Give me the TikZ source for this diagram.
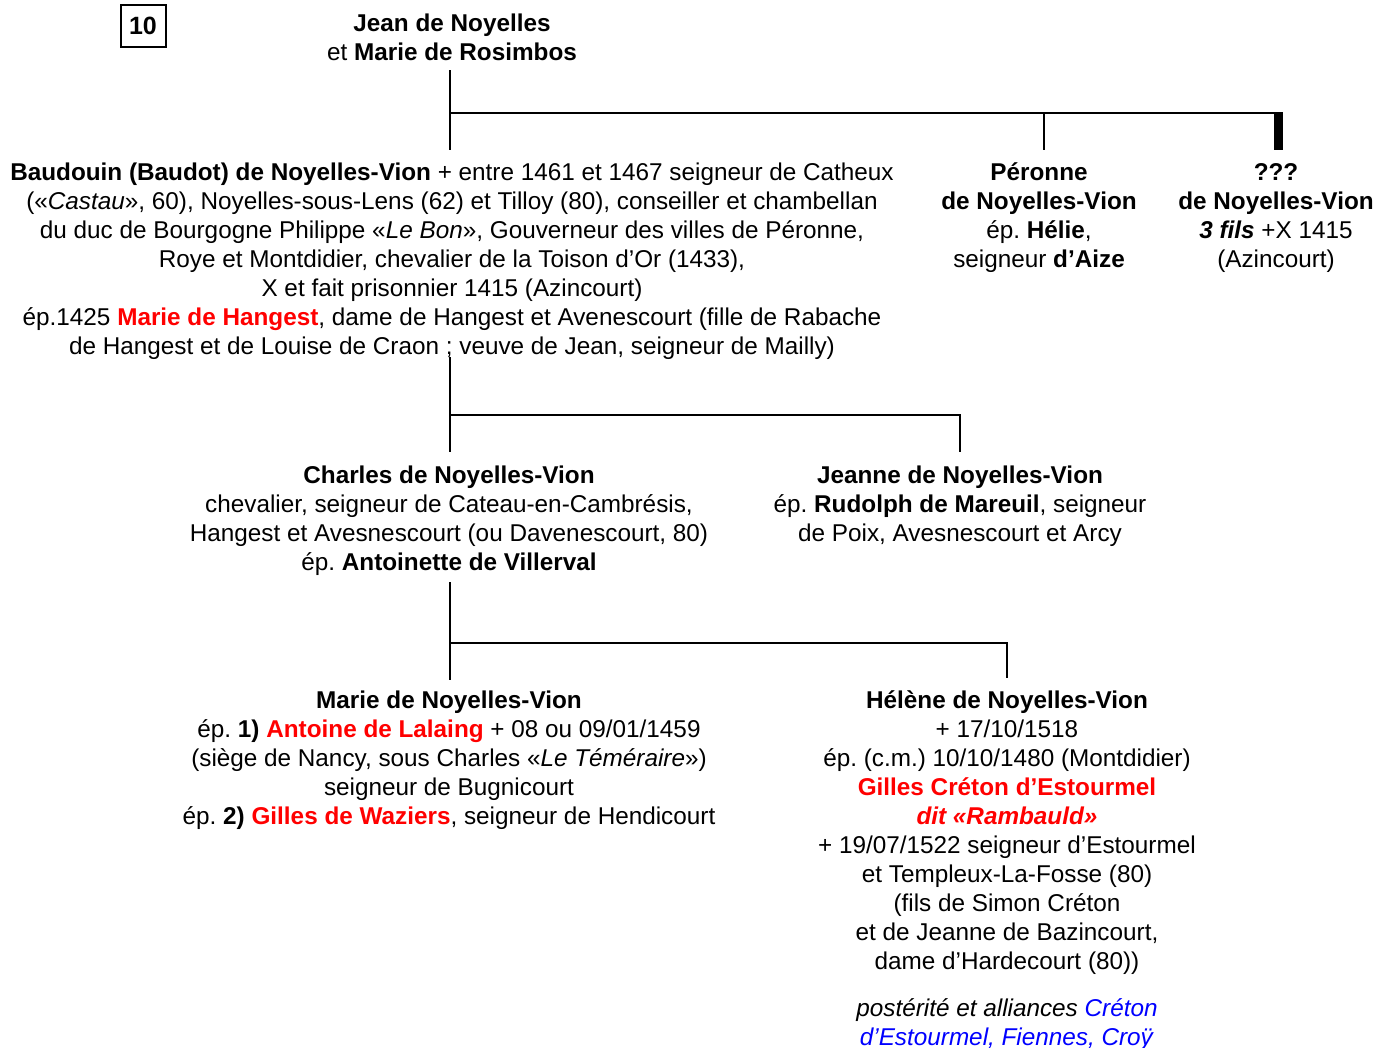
\documentclass[tikz,border=0pt]{standalone}
\usepackage{fontspec}
\setmainfont{Liberation Sans}
\frenchspacing
\definecolor{myred}{RGB}{255,0,0}
\definecolor{myblue}{RGB}{0,0,255}
\newcommand{\fl}{\rule{0pt}{20pt}}
\begin{document}
\begin{tikzpicture}[x=1pt,y=-1pt,
  txt/.style={anchor=north,align=center,inner sep=0pt,font=\fontsize{24.3}{29}\selectfont},
  link/.style={line width=2pt},
  bar/.style={line width=9pt}]
\useasboundingbox (0,0) rectangle (1378,1047);
% numbered box
\node[draw,line width=2pt,minimum width=45pt,minimum height=42pt,inner sep=0pt,font=\fontsize{25}{29}\selectfont\bfseries] (num) at (143,26) {10};
% parents
\node[txt] (jean) at (452,11) {\fl\textbf{Jean de Noyelles}\\ et \textbf{Marie de Rosimbos}};
% generation 1
\node[txt] (baud) at (452,160) {\fl\textbf{Baudouin (Baudot) de Noyelles-Vion} + entre 1461 et 1467 seigneur de Catheux\\
(«\textit{Castau}», 60), Noyelles-sous-Lens (62) et Tilloy (80), conseiller et chambellan\\
du duc de Bourgogne Philippe «\textit{Le Bon}», Gouverneur des villes de Péronne,\\
Roye et Montdidier, chevalier de la Toison d’Or (1433),\\
X et fait prisonnier 1415 (Azincourt)\\
ép.1425 \textcolor{myred}{\textbf{Marie de Hangest}}, dame de Hangest et Avenescourt (fille de Rabache\\
de Hangest et de Louise de Craon ; veuve de Jean, seigneur de Mailly)};
\node[txt] (peronne) at (1039,160) {\fl\textbf{Péronne}\\ \textbf{de Noyelles-Vion}\\ ép. \textbf{Hélie},\\ seigneur \textbf{d’Aize}};
\node[txt] (inconnu) at (1276,160) {\fl\textbf{???}\\ \textbf{de Noyelles-Vion}\\ \textbf{\textit{3 fils}} +X 1415\\ (Azincourt)};
% generation 2
\node[txt] (charles) at (449,463) {\fl\textbf{Charles de Noyelles-Vion}\\
chevalier, seigneur de Cateau-en-Cambrésis,\\
Hangest et Avesnescourt (ou Davenescourt, 80)\\
ép. \textbf{Antoinette de Villerval}};
\node[txt] (jeanne) at (960,463) {\fl\textbf{Jeanne de Noyelles-Vion}\\
ép. \textbf{Rudolph de Mareuil}, seigneur\\
de Poix, Avesnescourt et Arcy};
% generation 3
\node[txt] (marie) at (449,688) {\fl\textbf{Marie de Noyelles-Vion}\\
ép. \textbf{1)} \textcolor{myred}{\textbf{Antoine de Lalaing}} + 08 ou 09/01/1459\\
(siège de Nancy, sous Charles «\textit{Le Téméraire}»)\\
seigneur de Bugnicourt\\
ép. \textbf{2)} \textcolor{myred}{\textbf{Gilles de Waziers}}, seigneur de Hendicourt};
\node[txt] (helene) at (1007,688) {\fl\textbf{Hélène de Noyelles-Vion}\\
+ 17/10/1518\\
ép. (c.m.) 10/10/1480 (Montdidier)\\
\textcolor{myred}{\textbf{Gilles Créton d’Estourmel}}\\
\textcolor{myred}{\textbf{\textit{dit «Rambauld»}}}\\
+ 19/07/1522 seigneur d’Estourmel\\
et Templeux-La-Fosse (80)\\
(fils de Simon Créton\\
et de Jeanne de Bazincourt,\\
dame d’Hardecourt (80))\\[18pt]
\textit{postérité et alliances \textcolor{myblue}{Créton}}\\
\textcolor{myblue}{\textit{d’Estourmel, Fiennes, Croÿ}}};
% junctions
\coordinate (j1) at (450,113);
\coordinate (j1r) at (1282,113);
\coordinate (j2) at (450,415);
\coordinate (j3) at (450,643);
% connectors
\draw[link] (450,70) coordinate (jtop) -- (j1) -- (450,150) coordinate (baudtop);
\draw[link] (j1) -- (j1r);
\draw[link] (1044,113) coordinate (perj) -- (1044,150) coordinate (pertop);
\draw[bar] (1278,112) coordinate (bartop) -- (1278,150) coordinate (barbot);
\draw[link] (450,357) coordinate (baudbot) -- (j2) -- (450,452) coordinate (chtop);
\draw[link] (j2) -- (960,415) coordinate (j2r) -- (960,452) coordinate (jntop);
\draw[link] (450,582) coordinate (chbot) -- (j3) -- (450,680) coordinate (mtop);
\draw[link] (j3) -- (1007,643) coordinate (j3r) -- (1007,678) coordinate (htop);
\end{tikzpicture}
\end{document}
